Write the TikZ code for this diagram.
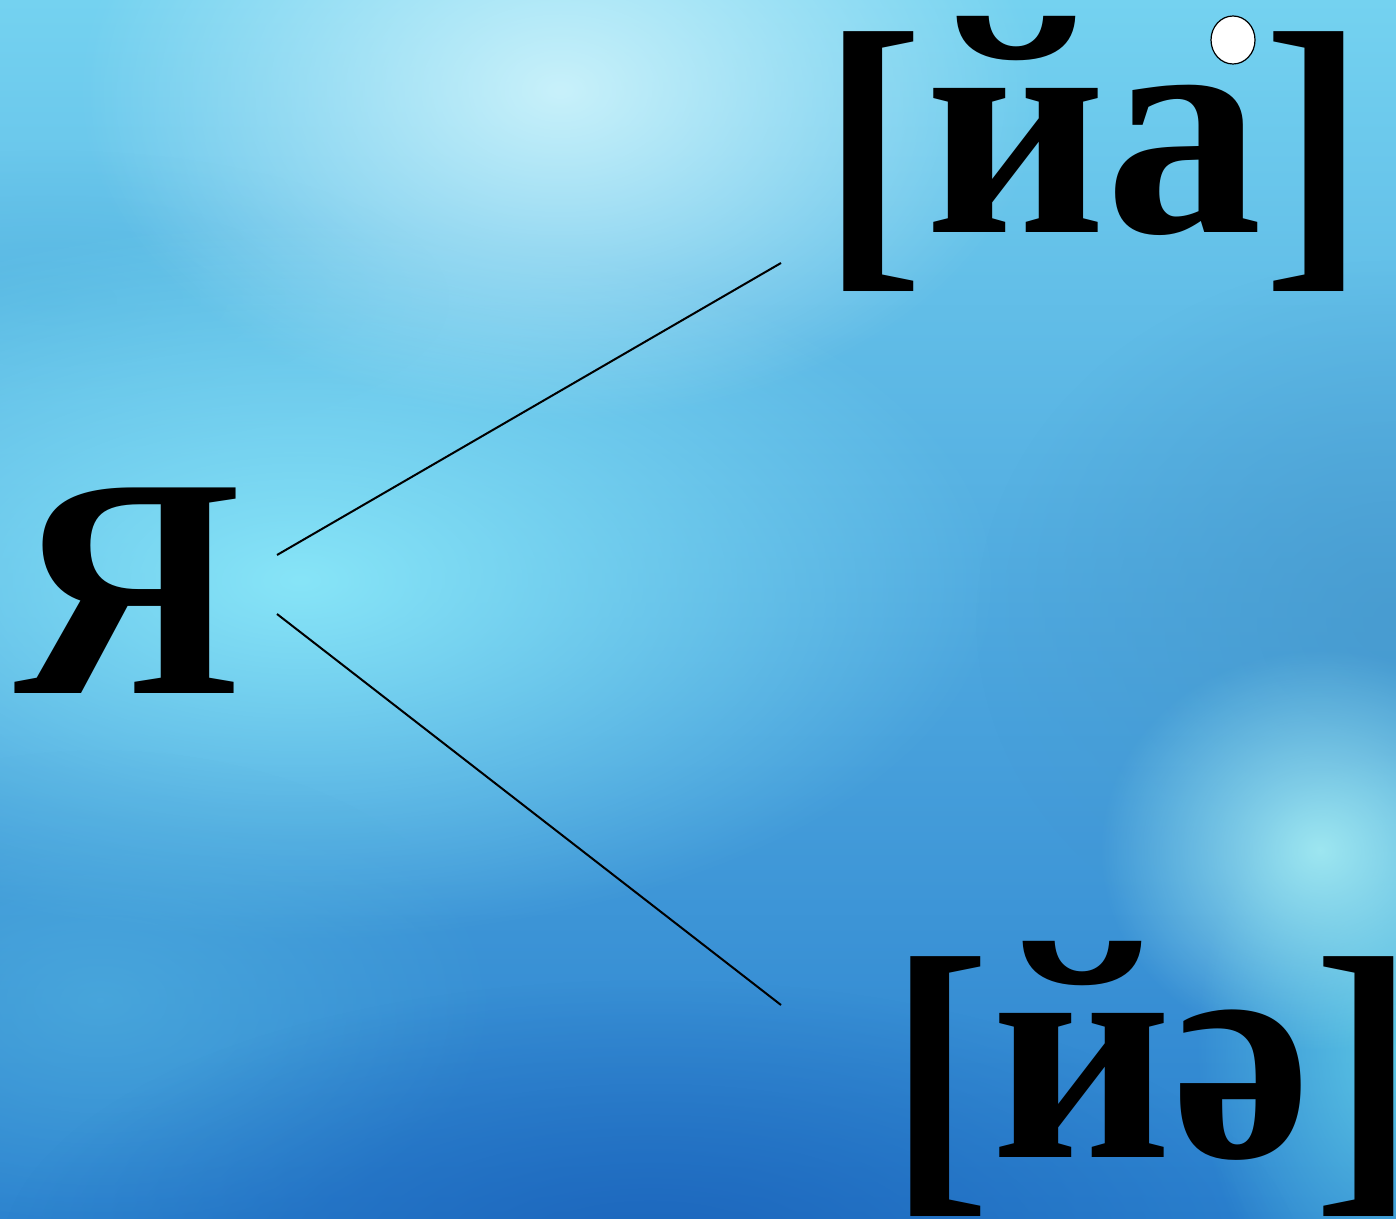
\documentclass[tikz,border=0pt]{standalone}
\usepackage{fontspec}
\setmainfont{Liberation Serif}
\usetikzlibrary{fadings,shapes.geometric}
\tikzfading[name=fuzzy, inner color=transparent!0, outer color=transparent!100]
\definecolor{bgtop}{HTML}{74D2F0}
\definecolor{bgbot}{HTML}{2A80CE}
\definecolor{glowA}{HTML}{D2F5FC}
\definecolor{glowB}{HTML}{8AE8F9}
\definecolor{deepR}{HTML}{4698CC}
\definecolor{deepB}{HTML}{1A62BA}
\definecolor{bokeh}{HTML}{A2EAF2}
\definecolor{cyanR}{HTML}{66D6EA}
\definecolor{bandL}{HTML}{52B4E0}
\tikzset{
  big/.style={font=\fontsize{157}{160}\selectfont\bfseries, inner sep=0pt, text=black},
  link/.style={draw=black, line width=1pt},
  stressmark/.style={draw=black, line width=0.6pt, fill=white, ellipse, minimum width=22pt, minimum height=24pt, inner sep=0pt}
}
\newcommand{\lowbr}[1]{\raisebox{-8.5pt}{#1}}
\begin{document}
\begin{tikzpicture}[x=0.5pt,y=-0.5pt]
\useasboundingbox (0,0) rectangle (1396,1219);
\shade[top color=bgtop, bottom color=bgbot] (0,0) rectangle (1396,1219);
\begin{scope}
\clip (0,0) rectangle (1396,1219);
\fill[bandL, path fading=fuzzy, opacity=0.6] (50,300) ellipse (400 and 150);
\fill[glowB, path fading=fuzzy, opacity=0.95] (300,580) ellipse (700 and 360);
\fill[glowA, path fading=fuzzy, opacity=0.9] (560,90) ellipse (480 and 330);
\fill[deepR, path fading=fuzzy, opacity=0.75] (1396,620) ellipse (420 and 360);
\fill[bandL, path fading=fuzzy, opacity=0.6] (100,1000) ellipse (400 and 250);
\fill[deepB, path fading=fuzzy, opacity=0.9] (650,1260) ellipse (650 and 280);
\fill[cyanR, path fading=fuzzy, opacity=0.8] (1396,1050) ellipse (200 and 300);
\fill[bokeh, path fading=fuzzy, opacity=0.95] (1320,850) ellipse (220 and 200);
\end{scope}
\node[big, anchor=base] (ya) at (128,693) {Я};
\node[big, anchor=base] (top) at (1094,233) {\lowbr{[}йа\lowbr{]}};
\node[big, anchor=base] (bot) at (1152,1157) {\lowbr{[}йə\lowbr{]}};
\coordinate (s1) at (277,555);
\coordinate (e1) at (781,263);
\coordinate (s2) at (277,614);
\coordinate (e2) at (781,1005);
\draw[link] (s1) -- (e1);
\draw[link] (s2) -- (e2);
\node[stressmark] (stress) at (1233,40) {};
\end{tikzpicture}
\end{document}
